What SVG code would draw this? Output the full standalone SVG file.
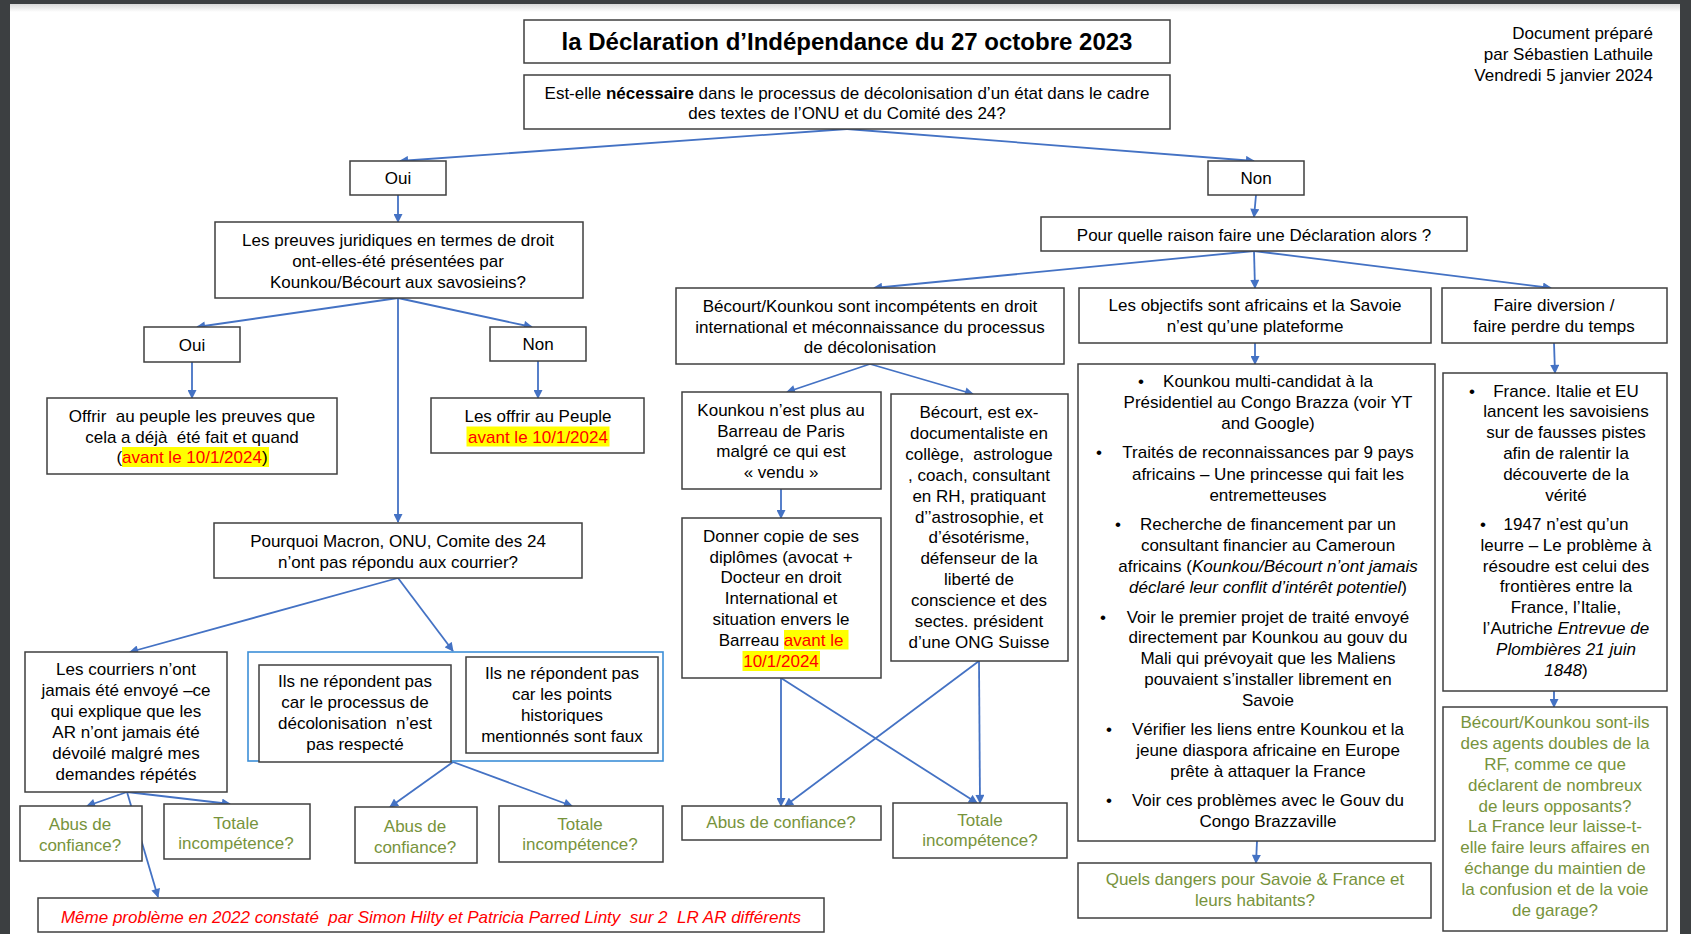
<svg xmlns="http://www.w3.org/2000/svg" width="1691" height="934" viewBox="0 0 1691 934">
<defs>
<style>
.b{fill:#fff;stroke:#3f3f3f;stroke-width:1.5}
.bb{fill:none;stroke:#3d8fd8;stroke-width:1.6}
text{font-family:"Liberation Sans",Arial,sans-serif;font-size:17px;fill:#000;text-anchor:middle;white-space:pre}
.g{fill:#77933C}
.r{fill:#FF0000}
.i{font-style:italic}
.hl{fill:#FFFF00}
.c line{stroke:#4472C4;stroke-width:1.8;marker-end:url(#ah)}
</style>
<marker id="ah" markerUnits="userSpaceOnUse" markerWidth="10" markerHeight="9" viewBox="0 0 10 10" refX="9" refY="5" orient="auto"><path d="M0,0 L10,5 L0,10 z" fill="#4472C4"/></marker>
<linearGradient id="sh" x1="0" y1="0" x2="0" y2="1"><stop offset="0" stop-color="#d8d8d8"/><stop offset="1" stop-color="#ffffff"/></linearGradient>
</defs>
<rect x="0" y="0" width="1691" height="934" fill="#3c3f41"/>
<rect x="10" y="4" width="1670" height="930" fill="#fff"/>
<rect x="10" y="4" width="1670" height="8" fill="url(#sh)"/>

<g id="header"><text x="1653" y="38.5" style="text-anchor:end">Document préparé</text><text x="1653" y="59.5" style="text-anchor:end">par Sébastien Lathuile</text><text x="1653" y="80.5" style="text-anchor:end">Vendredi 5 janvier 2024</text></g>

<g class="c" id="connectors">
<line x1="847" y1="129" x2="400" y2="161"/>
<line x1="847" y1="129" x2="1254" y2="161"/>
<line x1="398" y1="195" x2="398" y2="222"/>
<line x1="1256" y1="195" x2="1254" y2="217"/>
<line x1="1254" y1="251" x2="874" y2="288"/>
<line x1="1254" y1="251" x2="1255" y2="288"/>
<line x1="1254" y1="251" x2="1551" y2="288"/>
<line x1="398" y1="298" x2="197" y2="327"/>
<line x1="398" y1="298" x2="532" y2="327"/>
<line x1="398" y1="298" x2="398" y2="522"/>
<line x1="192" y1="362" x2="192" y2="398"/>
<line x1="538" y1="361" x2="538" y2="398"/>
<line x1="398" y1="578" x2="130" y2="652"/>
<line x1="398" y1="578" x2="453" y2="651"/>
<line x1="127" y1="792" x2="87" y2="806"/>
<line x1="127" y1="792" x2="230" y2="804"/>
<line x1="127" y1="792" x2="158" y2="897"/>
<line x1="453" y1="762" x2="390" y2="807"/>
<line x1="453" y1="762" x2="572" y2="806"/>
<line x1="870" y1="364" x2="787" y2="392"/>
<line x1="870" y1="364" x2="973" y2="394"/>
<line x1="781" y1="489" x2="781" y2="518"/>
<line x1="781" y1="678" x2="781" y2="806"/>
<line x1="781" y1="678" x2="977" y2="803"/>
<line x1="979" y1="661" x2="980" y2="803"/>
<line x1="979" y1="661" x2="785" y2="806"/>
<line x1="1255" y1="343" x2="1255" y2="364"/>
<line x1="1257" y1="841" x2="1256" y2="863"/>
<line x1="1554" y1="343" x2="1555" y2="373"/>
<line x1="1554" y1="691" x2="1554" y2="707"/>
</g>

<g id="title"><rect class="b" x="524" y="20" width="646" height="43"/><text x="847" y="50" style="font-size:24px;font-weight:bold">la Déclaration d’Indépendance du 27 octobre 2023</text></g>
<g id="question"><rect class="b" x="524" y="75" width="646" height="54"/><text x="847" y="98.5">Est-elle <tspan font-weight="bold">nécessaire</tspan> dans le processus de décolonisation d’un état dans le cadre</text><text x="847" y="119">des textes de l’ONU et du Comité des 24?</text></g>
<g id="oui1"><rect class="b" x="350" y="161" width="96" height="34"/><text x="398" y="184">Oui</text></g>
<g id="non1"><rect class="b" x="1208" y="161" width="96" height="34"/><text x="1256" y="184">Non</text></g>
<g id="preuves"><rect class="b" x="215" y="222" width="368" height="76"/><text x="398" y="246">Les preuves juridiques en termes de droit</text><text x="398" y="267">ont-elles-été présentées par</text><text x="398" y="287.5">Kounkou/Bécourt aux savosieins?</text></g>
<g id="pour"><rect class="b" x="1041" y="217" width="426" height="34"/><text x="1254" y="241">Pour quelle raison faire une Déclaration alors ?</text></g>
<g id="oui2"><rect class="b" x="144" y="327" width="96" height="35"/><text x="192" y="350.5">Oui</text></g>
<g id="non2"><rect class="b" x="490" y="327" width="96" height="34"/><text x="538" y="350">Non</text></g>
<g id="offrir"><rect class="b" x="47" y="398" width="290" height="76"/><rect class="hl" x="122" y="447" width="147" height="20"/><text x="192" y="421.7">Offrir  au peuple les preuves que</text><text x="192" y="442.7">cela a déjà  été fait et quand</text><text x="192" y="463.3">(<tspan class="r">avant le 10/1/2024</tspan>)</text></g>
<g id="offrir2"><rect class="b" x="431" y="398" width="213" height="55"/><rect class="hl" x="466.5" y="426.5" width="143" height="20"/><text x="538" y="421.7">Les offrir au Peuple</text><text x="538" y="442.7" class="r">avant le 10/1/2024</text></g>
<g id="pourquoi"><rect class="b" x="214" y="523" width="368" height="55"/><text x="398" y="547">Pourquoi Macron, ONU, Comite des 24</text><text x="398" y="567.5">n’ont pas répondu aux courrier?</text></g>
<g id="courriers"><rect class="b" x="25" y="652" width="202" height="140"/><text x="126" y="675">Les courriers n’ont</text><text x="126" y="696">jamais été envoyé –ce</text><text x="126" y="717">qui explique que les</text><text x="126" y="738">AR n’ont jamais été</text><text x="126" y="759">dévoilé malgré mes</text><text x="126" y="779.5">demandes répétés</text></g>
<g id="groupe"><rect class="bb" x="248" y="652" width="415" height="109"/></g>
<g id="ils1"><rect class="b" x="259" y="665" width="192" height="97"/><text x="355" y="687">Ils ne répondent pas</text><text x="355" y="708">car le processus de</text><text x="355" y="729">décolonisation  n’est</text><text x="355" y="750">pas respecté</text></g>
<g id="ils2"><rect class="b" x="466" y="657" width="192" height="96"/><text x="562" y="679">Ils ne répondent pas</text><text x="562" y="700">car les points</text><text x="562" y="721">historiques</text><text x="562" y="742">mentionnés sont faux</text></g>
<g id="abus1"><rect class="b" x="20" y="806" width="122" height="55"/><text class="g" x="80" y="830">Abus de</text><text class="g" x="80" y="850.5">confiance?</text></g>
<g id="totale1"><rect class="b" x="164" y="804" width="146" height="55"/><text class="g" x="236" y="828.5">Totale</text><text class="g" x="236" y="849">incompétence?</text></g>
<g id="abus2"><rect class="b" x="355" y="807" width="122" height="56"/><text class="g" x="415" y="832">Abus de</text><text class="g" x="415" y="852.5">confiance?</text></g>
<g id="totale2"><rect class="b" x="499" y="806" width="164" height="56"/><text class="g" x="580" y="829.5">Totale</text><text class="g" x="580" y="850">incompétence?</text></g>
<g id="meme"><rect class="b" x="38" y="898" width="786" height="34"/><text class="r i" x="431" y="923">Même problème en 2022 constaté  par Simon Hilty et Patricia Parred Linty  sur 2  LR AR différents</text></g>
<g id="becourt"><rect class="b" x="676" y="288" width="388" height="76"/><text x="870" y="311.5">Bécourt/Kounkou sont incompétents en droit</text><text x="870" y="332.5">international et méconnaissance du processus</text><text x="870" y="353">de décolonisation</text></g>
<g id="objectifs"><rect class="b" x="1079" y="288" width="352" height="55"/><text x="1255" y="311">Les objectifs sont africains et la Savoie</text><text x="1255" y="332">n’est qu’une plateforme</text></g>
<g id="faire"><rect class="b" x="1442" y="288" width="225" height="55"/><text x="1554" y="311">Faire diversion /</text><text x="1554" y="332">faire perdre du temps</text></g>
<g id="kounkou"><rect class="b" x="682" y="392" width="199" height="97"/><text x="781" y="416">Kounkou n’est plus au</text><text x="781" y="436.7">Barreau de Paris</text><text x="781" y="457.3">malgré ce qui est</text><text x="781" y="478.3">« vendu »</text></g>
<g id="becourt2"><rect class="b" x="891" y="394" width="177" height="267"/><text x="979" y="418.3">Bécourt, est ex-</text><text x="979" y="439.2">documentaliste en</text><text x="979" y="460">collège,  astrologue</text><text x="979" y="480.9">, coach, consultant</text><text x="979" y="501.7">en RH, pratiquant</text><text x="979" y="522.6">d’’astrosophie, et</text><text x="979" y="543.4">d’ésotérisme,</text><text x="979" y="564.3">défenseur de la</text><text x="979" y="585.1">liberté de</text><text x="979" y="606">conscience et des</text><text x="979" y="626.8">sectes. président</text><text x="979" y="647.7">d’une ONG Suisse</text></g>
<g id="donner"><rect class="b" x="682" y="518" width="199" height="160"/><rect class="hl" x="784" y="630" width="64.5" height="19.5"/><rect class="hl" x="742.5" y="651" width="77.5" height="20"/><text x="781" y="541.7">Donner copie de ses</text><text x="781" y="562.5">diplômes (avocat +</text><text x="781" y="583.3">Docteur en droit</text><text x="781" y="604.2">International et</text><text x="781" y="625">situation envers le</text><text x="781" y="645.9">Barreau <tspan class="r">avant le</tspan></text><text x="781" y="666.7" class="r">10/1/2024</text></g>
<g id="abus3"><rect class="b" x="682" y="806" width="199" height="34"/><text class="g" x="781" y="828.3">Abus de confiance?</text></g>
<g id="totale3"><rect class="b" x="893" y="803" width="174" height="55"/><text class="g" x="980" y="825.7">Totale</text><text class="g" x="980" y="845.7">incompétence?</text></g>
<g id="bullets"><rect class="b" x="1078" y="364" width="357" height="477"/>
<text x="1141" y="386.7">•</text><text x="1268" y="386.7">Kounkou multi-candidat à la</text><text x="1268" y="408.3">Présidentiel au Congo Brazza (voir YT</text><text x="1268" y="429.3">and Google)</text>
<text x="1099" y="458.3">•</text><text x="1268" y="458.3">Traités de reconnaissances par 9 pays</text><text x="1268" y="480">africains – Une princesse qui fait les</text><text x="1268" y="501">entremetteuses</text>
<text x="1118" y="530">•</text><text x="1268" y="530">Recherche de financement par un</text><text x="1268" y="551">consultant financier au Cameroun</text><text x="1268" y="572.3">africains (<tspan class="i">Kounkou/Bécourt n’ont jamais</tspan></text><text x="1268" y="593.3"><tspan class="i">déclaré leur conflit d’intérêt potentiel</tspan>)</text>
<text x="1103" y="622.7">•</text><text x="1268" y="622.7">Voir le premier projet de traité envoyé</text><text x="1268" y="643.3">directement par Kounkou au gouv du</text><text x="1268" y="664.3">Mali qui prévoyait que les Maliens</text><text x="1268" y="685">pouvaient s’installer librement en</text><text x="1268" y="705.7">Savoie</text>
<text x="1109" y="735">•</text><text x="1268" y="735">Vérifier les liens entre Kounkou et la</text><text x="1268" y="755.7">jeune diaspora africaine en Europe</text><text x="1268" y="776.7">prête à attaquer la France</text>
<text x="1109" y="805.7">•</text><text x="1268" y="805.7">Voir ces problèmes avec le Gouv du</text><text x="1268" y="826.7">Congo Brazzaville</text></g>
<g id="quels"><rect class="b" x="1078" y="863" width="353" height="55"/><text class="g" x="1255" y="885">Quels dangers pour Savoie &amp; France et</text><text class="g" x="1255" y="905.7">leurs habitants?</text></g>
<g id="france"><rect class="b" x="1443" y="373" width="224" height="318"/>
<text x="1472" y="396.7">•</text><text x="1566" y="396.7">France. Italie et EU</text><text x="1566" y="417.3">lancent les savoisiens</text><text x="1566" y="438.3">sur de fausses pistes</text><text x="1566" y="459">afin de ralentir la</text><text x="1566" y="480">découverte de la</text><text x="1566" y="500.7">vérité</text>
<text x="1483" y="530">•</text><text x="1566" y="530">1947 n’est qu’un</text><text x="1566" y="550.7">leurre – Le problème à</text><text x="1566" y="571.7">résoudre est celui des</text><text x="1566" y="592.3">frontières entre la</text><text x="1566" y="613.3">France, l’Italie,</text><text x="1566" y="634.3">l’Autriche <tspan class="i">Entrevue de</tspan></text><text x="1566" y="655" class="i">Plombières 21 juin</text><text x="1566" y="676"><tspan class="i">1848</tspan>)</text></g>
<g id="agents"><rect class="b" x="1443" y="707" width="224" height="224"/><text class="g" x="1555" y="728.3">Bécourt/Kounkou sont-ils</text><text class="g" x="1555" y="749.3">des agents doubles de la</text><text class="g" x="1555" y="770">RF, comme ce que</text><text class="g" x="1555" y="790.7">déclarent de nombreux</text><text class="g" x="1555" y="811.7">de leurs opposants?</text><text class="g" x="1555" y="832.3">La France leur laisse-t-</text><text class="g" x="1555" y="853.3">elle faire leurs affaires en</text><text class="g" x="1555" y="874">échange du maintien de</text><text class="g" x="1555" y="895">la confusion et de la voie</text><text class="g" x="1555" y="915.7">de garage?</text></g>
</svg>
